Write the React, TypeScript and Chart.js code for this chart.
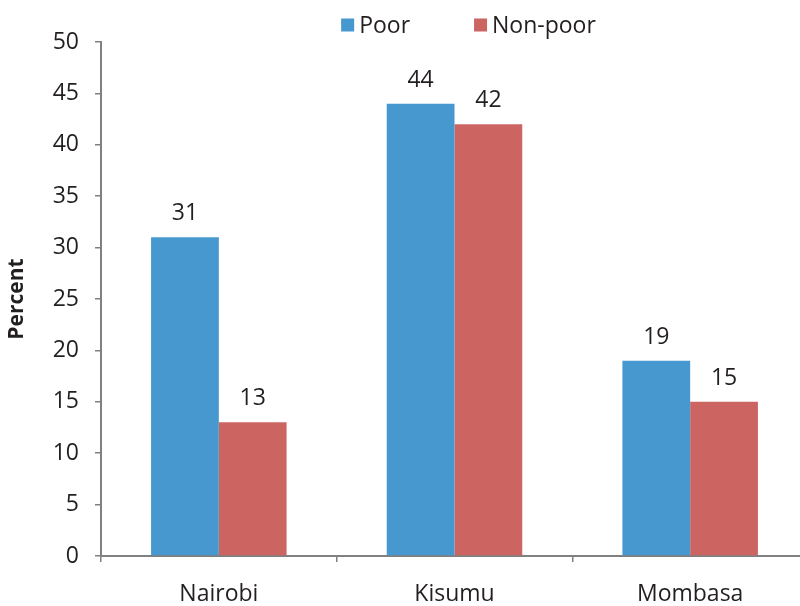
import React, { useEffect, useRef } from "react";
import { Chart, registerables } from "chart.js";

Chart.register(...registerables);

const categories = ["Nairobi", "Kisumu", "Mombasa"];
const poorValues = [31, 44, 19];
const nonPoorValues = [13, 42, 15];
const seriesNames = ["Poor", "Non-poor"];
const yTicks = [0, 5, 10, 15, 20, 25, 30, 35, 40, 45, 50];

const BLUE = "#4698CE";
const RED = "#CC6562";
const TEXT = "#231F20";
const AXIS = "#808080";
const FONT = "'Open Sans', sans-serif";
const FS = 23;

const valueLabels = {
  id: "valueLabels",
  afterDatasetsDraw(chart: any) {
    const ctx = chart.ctx;
    ctx.save();
    ctx.font = `${FS}px ${FONT}`;
    ctx.fillStyle = TEXT;
    ctx.textAlign = "center";
    ctx.textBaseline = "alphabetic";
    chart.data.datasets.forEach((ds: any, i: number) => {
      const meta = chart.getDatasetMeta(i);
      meta.data.forEach((el: any, j: number) => {
        ctx.fillText(String(ds.data[j]), el.x, el.y - 17);
      });
    });
    ctx.restore();
  },
};

const customLegend = {
  id: "customLegend",
  afterDraw(chart: any) {
    const ctx = chart.ctx;
    ctx.save();
    ctx.font = `${FS}px ${FONT}`;
    ctx.textBaseline = "middle";
    ctx.textAlign = "left";
    const box = 13;
    const gap = 5;
    const spacing = 64;
    const items = chart.data.datasets.map((ds: any) => ({
      label: ds.label,
      color: ds.backgroundColor,
      w: box + gap + ctx.measureText(ds.label).width,
    }));
    const total = items.reduce((s: number, it: any) => s + it.w, 0) + spacing * (items.length - 1);
    const ca = chart.chartArea;
    let x = (ca.left + ca.right) / 2 + 14 - total / 2;
    const cy = 25;
    items.forEach((it: any) => {
      ctx.fillStyle = it.color;
      ctx.fillRect(x, cy - box / 2, box, box);
      ctx.fillStyle = TEXT;
      ctx.fillText(it.label, x + box + gap, cy + 1);
      x += it.w + spacing;
    });
    ctx.restore();
  },
};

export default function App() {
  const ref = useRef<HTMLCanvasElement>(null);
  useEffect(() => {
    document.body.style.margin = "0";
    const chart = new Chart(ref.current!, {
      type: "bar",
      data: {
        labels: categories,
        datasets: [
          { label: seriesNames[0], data: poorValues, backgroundColor: BLUE, categoryPercentage: 0.575, barPercentage: 1 },
          { label: seriesNames[1], data: nonPoorValues, backgroundColor: RED, categoryPercentage: 0.575, barPercentage: 1 },
        ],
      },
      options: {
        animation: false,
        responsive: false,
        devicePixelRatio: 1,
        layout: { padding: { top: 42, left: 0, right: 0, bottom: 0 } },
        plugins: { legend: { display: false }, tooltip: { enabled: false } },
        scales: {
          x: {
            grid: { offset: true, drawOnChartArea: false, drawTicks: true, tickLength: 6, color: AXIS, lineWidth: 1.5 },
            border: { color: AXIS, width: 2 },
            ticks: { color: TEXT, font: { family: FONT, size: FS }, padding: 19 },
            afterFit(scale: any) { scale.height = 50; },
          },
          y: {
            min: 0,
            max: 50,
            afterBuildTicks(scale: any) { scale.ticks = yTicks.map((v) => ({ value: v })); },
            grid: { drawOnChartArea: false, drawTicks: true, tickLength: 6, color: AXIS, lineWidth: 1.5 },
            border: { color: AXIS, width: 2 },
            ticks: { color: TEXT, font: { family: FONT, size: FS }, padding: 16 },
            title: { display: true, text: "Percent", color: TEXT, font: { family: FONT, size: 21, weight: "bold" }, padding: { top: 4, bottom: 0 } },
            afterFit(scale: any) { scale.width = 101; },
          },
        },
      },
      plugins: [valueLabels, customLegend],
    } as any);
    return () => chart.destroy();
  }, []);
  return (
    <div style={{ width: 800, height: 606, overflow: "hidden", background: "#fff" }}>
      <canvas ref={ref} width={808} height={606} />
    </div>
  );
}
